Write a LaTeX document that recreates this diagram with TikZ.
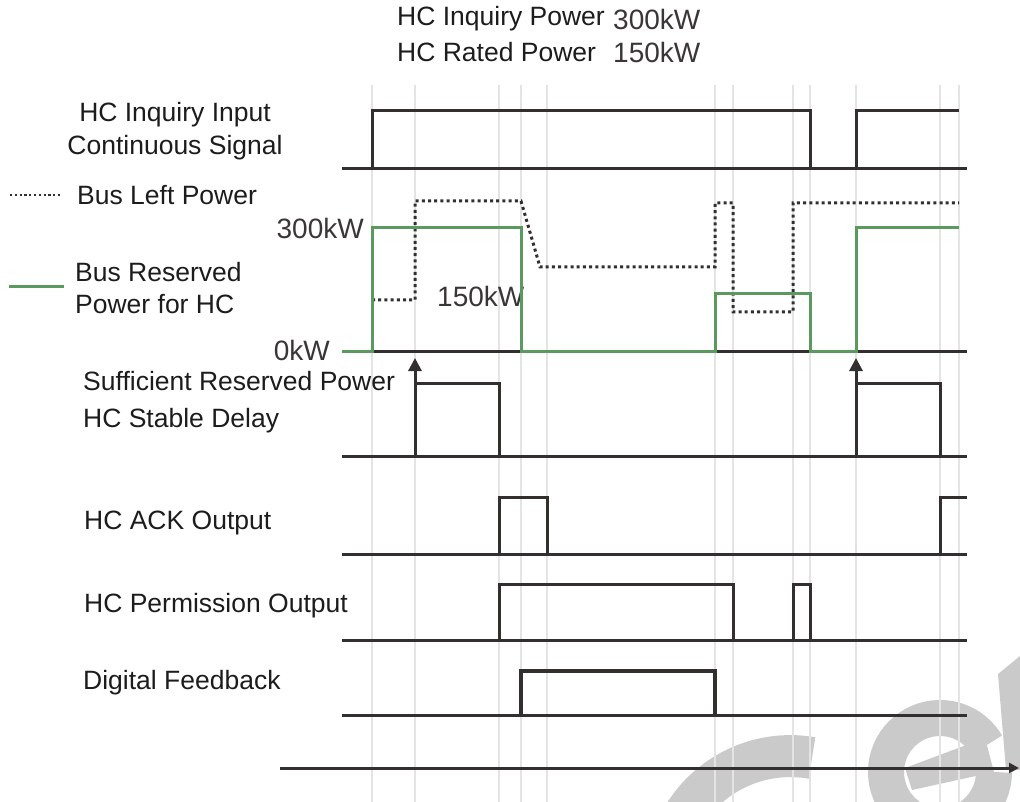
\documentclass[tikz,border=0pt]{standalone}
\usepackage{fontspec}
\setmainfont{Liberation Sans}
\usetikzlibrary{arrows.meta}
\definecolor{sigc}{HTML}{342F2F}
\definecolor{grn}{HTML}{5A9A5E}
\definecolor{grid}{HTML}{E4E4E4}
\definecolor{txt}{HTML}{1C1C1C}
\definecolor{numc}{HTML}{3A3636}
\definecolor{wm}{HTML}{CACACA}
\tikzset{
  sig/.style={draw=sigc, line width=3pt, line join=miter},
  grnline/.style={draw=grn, line width=3pt},
  dotline/.style={draw=sigc, line width=3pt, dash pattern=on 3pt off 3.2pt},
  gridline/.style={draw=grid, line width=2.8pt},
  lbl/.style={font=\fontsize{26.5}{30}\selectfont, text=txt, inner sep=0pt, anchor=west},
  numlbl/.style={font=\fontsize{28}{32}\selectfont, text=numc, inner sep=0pt},
}
\begin{document}
\begin{tikzpicture}[x=1pt,y=-1pt]
\useasboundingbox (0,0) rectangle (1020,802);
% watermark
\begin{scope}
\clip (0,0) rectangle (1020,802);
\draw[wm, line width=42pt] (812,758) arc[start angle=-80, end angle=-175, radius=125];
\draw[wm, line width=36pt] (994,772) arc[start angle=0, end angle=330, radius=54];
\fill[wm] (905,768) -- (985,738) -- (994,772) -- (912,790) -- cycle;
\fill[wm] (998,674) -- (1020,656) -- (1020,770) -- (1006,770) -- cycle;
\end{scope}
% grid lines
\foreach \gx in {372,415,499,521,547,715,733,793,810,856,940,959}
  \draw[gridline] (\gx,85) -- (\gx,802);
% header
\node[lbl] (h1) at (397,19) {HC Inquiry Power};
\node[numlbl, anchor=west] (h1v) at (613,19) {300kW};
\node[lbl] (h2) at (397,52) {HC Rated Power};
\node[numlbl, anchor=west] (h2v) at (613,52) {150kW};
% labels
\node[font=\fontsize{26.5}{33}\selectfont, text=txt, inner sep=0pt, align=center] (l1) at (175,131) {HC Inquiry Input\\Continuous Signal};
\coordinate (lgd1a) at (10,195);
\coordinate (lgd1b) at (62,195);
\draw[draw=sigc, line width=2.2pt, dash pattern=on 2.2pt off 2.6pt] (lgd1a) -- (lgd1b);
\node[lbl] (l2) at (77,195) {Bus Left Power};
\coordinate (lgd2a) at (9,287);
\coordinate (lgd2b) at (64,287);
\draw[grnline] (lgd2a) -- (lgd2b);
\node[lbl] (l3) at (75,272) {Bus Reserved};
\node[lbl] (l3b) at (75,304) {Power for HC};
\node[numlbl, anchor=east] (v300) at (364,228) {300kW};
\node[numlbl, anchor=east] (v0) at (330,350) {0kW};
\node[numlbl, anchor=west] (v150) at (437,296) {150kW};
\node[lbl] (l4) at (83,381) {Sufficient Reserved Power};
\node[lbl] (l5) at (83,421) {HC Stable Delay};
\node[lbl] (l6) at (84,523) {HC ACK Output};
\node[lbl] (l7) at (84,606) {HC Permission Output};
\node[lbl] (l8) at (83,683) {Digital Feedback};
% row 1
\draw[sig] (342,169) -- (967,169);
\draw[sig] (372,169) -- (372,111) -- (810,111) -- (810,169);
\draw[sig] (856,169) -- (856,111) -- (959,111);
% row 2
\draw[sig] (342,351) -- (967,351);
\draw[dotline] (372,300) -- (415,300) -- (415,201) -- (521,201) -- (540,267) -- (715,267) -- (715,203) -- (733,203) -- (733,312) -- (793,312) -- (793,203) -- (959,203);
\draw[grnline] (342,351) -- (372,351) -- (372,228) -- (521,228) -- (521,351) -- (715,351) -- (715,294) -- (810,294) -- (810,351) -- (856,351) -- (856,228) -- (959,228);
% row 3
\draw[sig] (342,456) -- (967,456);
\draw[sig] (415,383) -- (499,383) -- (499,456);
\draw[sig] (856,383) -- (940,383) -- (940,456);
\draw[sig, -{Triangle[width=13pt,length=13pt]}] (415,456) -- (415,358);
\draw[sig, -{Triangle[width=13pt,length=13pt]}] (856,456) -- (856,358);
% row 4
\draw[sig] (342,554) -- (967,554);
\draw[sig] (499,554) -- (499,497) -- (547,497) -- (547,554);
\draw[sig] (940,554) -- (940,497) -- (967,497);
% row 5
\draw[sig] (342,640) -- (967,640);
\draw[sig] (499,640) -- (499,584) -- (733,584) -- (733,640);
\draw[sig] (793,640) -- (793,584) -- (810,584) -- (810,640);
% row 6
\draw[sig] (342,715) -- (967,715);
\draw[sig, line width=3.3pt] (521,715) -- (521,671) -- (715,671) -- (715,715);
% time axis
\coordinate (ax0) at (280,768);
\coordinate (ax1) at (1019,768);
\draw[sig, -{Triangle[width=10pt,length=10pt]}] (ax0) -- (ax1);
\end{tikzpicture}
\end{document}
